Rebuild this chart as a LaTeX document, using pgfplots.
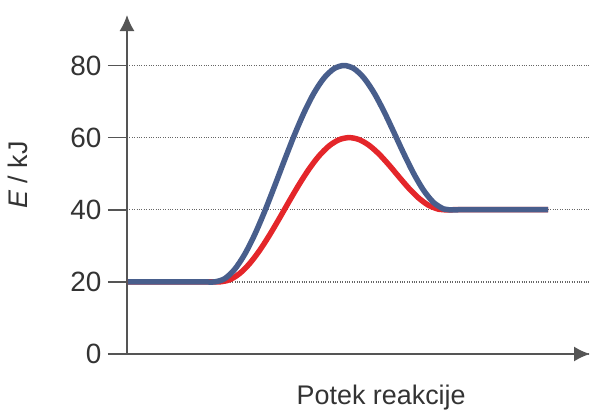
\documentclass[border=0pt]{standalone}
\usepackage{pgfplots}
\pgfplotsset{compat=1.18}
\usepackage{fontspec}
\setmainfont{Liberation Sans}
\usetikzlibrary{arrows.meta}
\definecolor{cblue}{RGB}{72,94,140}
\definecolor{cred}{RGB}{228,38,42}
\definecolor{axgray}{RGB}{85,85,85}
\begin{document}
\begin{tikzpicture}
\begin{axis}[
  scale only axis,
  width=463bp, height=339bp,
  xmin=127, xmax=592,
  ymin=0, ymax=94,
  axis lines=left,
  axis line style={axgray, line width=1.6bp, -{Latex[length=16bp,width=15bp]}},
  xtick=\empty,
  ytick={0,20,40,60,80},
  tick align=outside,
  major tick length=19bp,
  tick style={axgray, line width=1.6bp},
  ymajorgrids,
  grid style={black!60, dotted, line width=1.3bp},
  tick label style={font=\fontsize{28}{32}\selectfont, text=black!80},
  yticklabel style={xshift=-3bp},
  /pgf/number format/assume math mode=true,
  xlabel={Potek reakcije},
  xlabel style={at={(axis description cs:0.549,0)}, anchor=center, yshift=-44bp, font=\fontsize{27}{30}\selectfont, text=black!80},
  ylabel={\textit{E} / kJ},
  ylabel style={at={(axis description cs:-0.235,0.528)}, anchor=center, font=\fontsize{27}{30}\selectfont, text=black!80},
  clip=false,
]
\addplot[cred, line width=5.5bp, smooth, line join=round] coordinates {
(128,20) (200,20) (210,20) (220,20) (230,20.58) (240,22.29) (250,25.03) (260,28.64) (270,32.91)
(280,37.59) (290,42.41) (300,47.09) (310,51.36) (320,54.97) (330,57.71)
(340,59.42) (350,60) (360,59.46) (370,57.89) (380,55.47) (390,52.46)
(400,49.17) (410,45.98) (420,43.23) (430,41.21) (440,40.14) (445,40) (455,40) (465,40) (550,40)
};
\addplot[cblue, line width=5.5bp, smooth, line join=round] coordinates {
(128,20) (195,20) (205,20) (215,20) (225,20.87) (235,23.43) (245,27.55) (255,32.96) (265,39.36)
(275,46.39) (285,53.62) (295,60.64) (305,67.04) (315,72.46) (325,76.57)
(335,79.13) (345,80) (355,79.11) (365,76.52) (375,72.47) (385,67.31)
(395,61.49) (405,55.55) (415,50) (425,45.34) (435,41.98) (445,40.22)
(450,40) (460,40) (470,40) (550,40)
};
\coordinate (O) at (axis cs:127,0);
\end{axis}
\pgfresetboundingbox
\useasboundingbox ([shift={(-127bp,-58bp)}]O) rectangle ([shift={(468bp,354bp)}]O);
\end{tikzpicture}
\end{document}
